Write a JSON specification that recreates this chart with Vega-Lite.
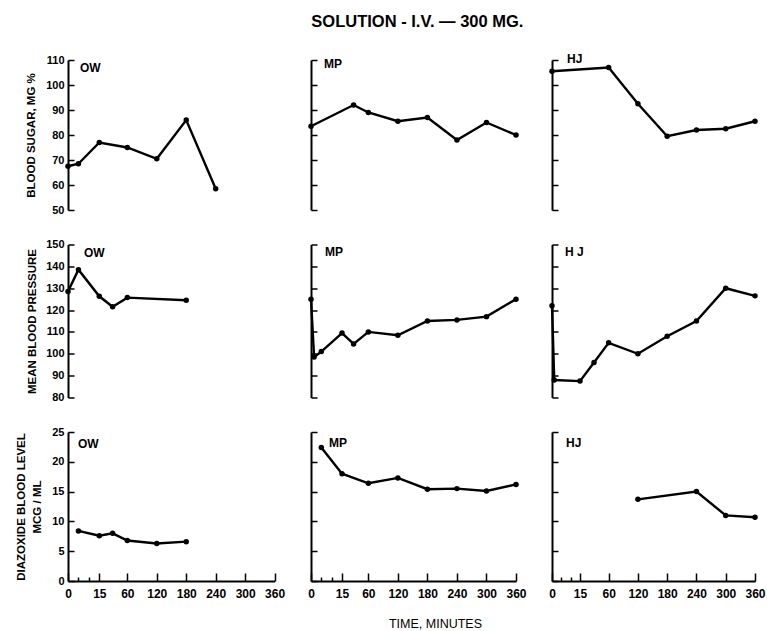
{
  "$schema": "https://vega.github.io/schema/vega-lite/v6.json",
  "background": "white",
  "padding": {"left": 15, "top": 13, "right": 5, "bottom": 5},
  "bounds": "flush",
  "title": {"text": "SOLUTION - I.V. — 300 MG.", "font": "Liberation Sans", "fontSize": 16.5, "fontWeight": "bold", "color": "black", "anchor": "middle", "offset": 23, "dx": 27},
  "datasets": {
    "obs": [
      {"s": "OW", "m": "sugar", "t": 0, "v": 67.5},
      {"s": "OW", "m": "sugar", "t": 5, "v": 68.5},
      {"s": "OW", "m": "sugar", "t": 15, "v": 77},
      {"s": "OW", "m": "sugar", "t": 60, "v": 75},
      {"s": "OW", "m": "sugar", "t": 120, "v": 70.5},
      {"s": "OW", "m": "sugar", "t": 180, "v": 86},
      {"s": "OW", "m": "sugar", "t": 240, "v": 58.5},
      {"s": "MP", "m": "sugar", "t": 0, "v": 83.5},
      {"s": "MP", "m": "sugar", "t": 30, "v": 92},
      {"s": "MP", "m": "sugar", "t": 60, "v": 89},
      {"s": "MP", "m": "sugar", "t": 120, "v": 85.5},
      {"s": "MP", "m": "sugar", "t": 180, "v": 87},
      {"s": "MP", "m": "sugar", "t": 240, "v": 78},
      {"s": "MP", "m": "sugar", "t": 300, "v": 85},
      {"s": "MP", "m": "sugar", "t": 360, "v": 80},
      {"s": "HJ", "m": "sugar", "t": 0, "v": 105.5},
      {"s": "HJ", "m": "sugar", "t": 60, "v": 107},
      {"s": "HJ", "m": "sugar", "t": 120, "v": 92.5},
      {"s": "HJ", "m": "sugar", "t": 180, "v": 79.5},
      {"s": "HJ", "m": "sugar", "t": 240, "v": 82},
      {"s": "HJ", "m": "sugar", "t": 300, "v": 82.5},
      {"s": "HJ", "m": "sugar", "t": 360, "v": 85.5},
      {"s": "OW", "m": "bp", "t": 0, "v": 128.5},
      {"s": "OW", "m": "bp", "t": 5, "v": 138.5},
      {"s": "OW", "m": "bp", "t": 15, "v": 126.3},
      {"s": "OW", "m": "bp", "t": 30, "v": 121.5},
      {"s": "OW", "m": "bp", "t": 60, "v": 125.7},
      {"s": "OW", "m": "bp", "t": 180, "v": 124.5},
      {"s": "MP", "m": "bp", "t": 0, "v": 125},
      {"s": "MP", "m": "bp", "t": 1.5, "v": 98.5},
      {"s": "MP", "m": "bp", "t": 5, "v": 101},
      {"s": "MP", "m": "bp", "t": 15, "v": 109.5},
      {"s": "MP", "m": "bp", "t": 30, "v": 104.5},
      {"s": "MP", "m": "bp", "t": 60, "v": 110},
      {"s": "MP", "m": "bp", "t": 120, "v": 108.5},
      {"s": "MP", "m": "bp", "t": 180, "v": 115},
      {"s": "MP", "m": "bp", "t": 240, "v": 115.5},
      {"s": "MP", "m": "bp", "t": 300, "v": 117},
      {"s": "MP", "m": "bp", "t": 360, "v": 125},
      {"s": "HJ", "m": "bp", "t": 0, "v": 122},
      {"s": "HJ", "m": "bp", "t": 1.2, "v": 88},
      {"s": "HJ", "m": "bp", "t": 15, "v": 87.5},
      {"s": "HJ", "m": "bp", "t": 30, "v": 96},
      {"s": "HJ", "m": "bp", "t": 60, "v": 105},
      {"s": "HJ", "m": "bp", "t": 120, "v": 100},
      {"s": "HJ", "m": "bp", "t": 180, "v": 108},
      {"s": "HJ", "m": "bp", "t": 240, "v": 115},
      {"s": "HJ", "m": "bp", "t": 300, "v": 130},
      {"s": "HJ", "m": "bp", "t": 360, "v": 126.5},
      {"s": "OW", "m": "dz", "t": 5, "v": 8.4},
      {"s": "OW", "m": "dz", "t": 15, "v": 7.6},
      {"s": "OW", "m": "dz", "t": 30, "v": 8},
      {"s": "OW", "m": "dz", "t": 60, "v": 6.8},
      {"s": "OW", "m": "dz", "t": 120, "v": 6.3},
      {"s": "OW", "m": "dz", "t": 180, "v": 6.6},
      {"s": "MP", "m": "dz", "t": 5, "v": 22.4},
      {"s": "MP", "m": "dz", "t": 15, "v": 18},
      {"s": "MP", "m": "dz", "t": 60, "v": 16.4},
      {"s": "MP", "m": "dz", "t": 120, "v": 17.3},
      {"s": "MP", "m": "dz", "t": 180, "v": 15.4},
      {"s": "MP", "m": "dz", "t": 240, "v": 15.5},
      {"s": "MP", "m": "dz", "t": 300, "v": 15.1},
      {"s": "MP", "m": "dz", "t": 360, "v": 16.2},
      {"s": "HJ", "m": "dz", "t": 120, "v": 13.7},
      {"s": "HJ", "m": "dz", "t": 240, "v": 15},
      {"s": "HJ", "m": "dz", "t": 300, "v": 11},
      {"s": "HJ", "m": "dz", "t": 360, "v": 10.7}
    ]
  },
  "columns": 3,
  "spacing": {"row": 34.5, "column": 36},
  "concat": [
    {
      "width": 207, "height": 150,
      "title": {"text": "OW", "frame": "group", "anchor": "start", "offset": -21, "dx": 12},
      "data": {"name": "obs"},
      "transform": [{"filter": "datum.s === 'OW' && datum.m === 'sugar'"}],
      "encoding": {
        "x": {"field": "t", "type": "quantitative", "scale": {"domain": [0, 15, 30, 360], "range": [0, 31.3, 44.6, 206.6], "nice": false}, "axis": null},
        "y": {"field": "v", "type": "quantitative", "scale": {"domain": [50, 110], "nice": false, "zero": false}, "axis": {"values": [50, 60, 70, 80, 90, 100, 110], "tickSize": -6, "labelPadding": 10, "title": "BLOOD SUGAR, MG %", "titlePadding": 9}}
      },
      "layer": [
        {"mark": {"type": "line", "color": "black", "strokeWidth": 2.4}},
        {"mark": {"type": "circle", "color": "black", "size": 30, "opacity": 1}}
      ]
    },
    {
      "width": 205, "height": 150,
      "title": {"text": "MP", "frame": "group", "anchor": "start", "offset": -12, "dx": 13},
      "data": {"name": "obs"},
      "transform": [{"filter": "datum.s === 'MP' && datum.m === 'sugar'"}],
      "encoding": {
        "x": {"field": "t", "type": "quantitative", "scale": {"domain": [0, 15, 30, 360], "range": [0, 31, 42.6, 205], "nice": false}, "axis": null},
        "y": {"field": "v", "type": "quantitative", "scale": {"domain": [50, 110], "nice": false, "zero": false}, "axis": {"values": [50, 60, 70, 80, 90, 100, 110], "tickSize": -6, "labels": false, "title": null}}
      },
      "layer": [
        {"mark": {"type": "line", "color": "black", "strokeWidth": 2.4}},
        {"mark": {"type": "circle", "color": "black", "size": 30, "opacity": 1}}
      ]
    },
    {
      "width": 203, "height": 150,
      "title": {"text": "HJ", "frame": "group", "anchor": "start", "offset": -7, "dx": 15},
      "data": {"name": "obs"},
      "transform": [{"filter": "datum.s === 'HJ' && datum.m === 'sugar'"}],
      "encoding": {
        "x": {"field": "t", "type": "quantitative", "scale": {"domain": [0, 15, 30, 360], "range": [0, 28, 42, 203], "nice": false}, "axis": null},
        "y": {"field": "v", "type": "quantitative", "scale": {"domain": [50, 110], "nice": false, "zero": false}, "axis": {"values": [50, 60, 70, 80, 90, 100, 110], "tickSize": -6, "labels": false, "title": null}}
      },
      "layer": [
        {"mark": {"type": "line", "color": "black", "strokeWidth": 2.4}},
        {"mark": {"type": "circle", "color": "black", "size": 30, "opacity": 1}}
      ]
    },
    {
      "width": 207, "height": 153,
      "title": {"text": "OW", "frame": "group", "anchor": "start", "offset": -21, "dx": 16},
      "data": {"name": "obs"},
      "transform": [{"filter": "datum.s === 'OW' && datum.m === 'bp'"}],
      "encoding": {
        "x": {"field": "t", "type": "quantitative", "scale": {"domain": [0, 15, 30, 360], "range": [0, 31.3, 44.6, 206.6], "nice": false}, "axis": null},
        "y": {"field": "v", "type": "quantitative", "scale": {"domain": [80, 150], "nice": false, "zero": false}, "axis": {"values": [80, 90, 100, 110, 120, 130, 140, 150], "tickSize": -6, "labelPadding": 10, "title": "MEAN BLOOD PRESSURE", "titlePadding": 8}}
      },
      "layer": [
        {"mark": {"type": "line", "color": "black", "strokeWidth": 2.4}},
        {"mark": {"type": "circle", "color": "black", "size": 30, "opacity": 1}}
      ]
    },
    {
      "width": 205, "height": 153,
      "title": {"text": "MP", "frame": "group", "anchor": "start", "offset": -15.5, "dx": 14},
      "data": {"name": "obs"},
      "transform": [{"filter": "datum.s === 'MP' && datum.m === 'bp'"}],
      "encoding": {
        "x": {"field": "t", "type": "quantitative", "scale": {"domain": [0, 15, 30, 360], "range": [0, 31, 42.6, 205], "nice": false}, "axis": null},
        "y": {"field": "v", "type": "quantitative", "scale": {"domain": [80, 150], "nice": false, "zero": false}, "axis": {"values": [80, 90, 100, 110, 120, 130, 140, 150], "tickSize": -6, "labels": false, "title": null}}
      },
      "layer": [
        {"mark": {"type": "line", "color": "black", "strokeWidth": 2.4}},
        {"mark": {"type": "circle", "color": "black", "size": 30, "opacity": 1}}
      ]
    },
    {
      "width": 203, "height": 153,
      "title": {"text": "H J", "frame": "group", "anchor": "start", "offset": -15.5, "dx": 13},
      "data": {"name": "obs"},
      "transform": [{"filter": "datum.s === 'HJ' && datum.m === 'bp'"}],
      "encoding": {
        "x": {"field": "t", "type": "quantitative", "scale": {"domain": [0, 15, 30, 360], "range": [0, 28, 42, 203], "nice": false}, "axis": null},
        "y": {"field": "v", "type": "quantitative", "scale": {"domain": [80, 150], "nice": false, "zero": false}, "axis": {"values": [80, 90, 100, 110, 120, 130, 140, 150], "tickSize": -6, "labels": false, "title": null}}
      },
      "layer": [
        {"mark": {"type": "line", "color": "black", "strokeWidth": 2.4}},
        {"mark": {"type": "circle", "color": "black", "size": 30, "opacity": 1}}
      ]
    },
    {
      "width": 207, "height": 149,
      "title": {"text": "OW", "frame": "group", "anchor": "start", "offset": -25, "dx": 10},
      "data": {"name": "obs"},
      "transform": [{"filter": "datum.s === 'OW' && datum.m === 'dz'"}],
      "encoding": {
        "x": {"field": "t", "type": "quantitative", "scale": {"domain": [0, 15, 30, 360], "range": [0, 31.3, 44.6, 206.6], "nice": false}, "axis": {"values": [0, 5, 10, 15, 60, 120, 180, 240, 300, 360], "labelExpr": "datum.value == 5 || datum.value == 10 ? '' : datum.label", "tickSize": {"condition": {"test": "datum.value == 5 || datum.value == 10", "value": -4}, "value": -8}, "labelPadding": 15, "labelFontSize": 12, "labelOverlap": false, "labelFlush": false, "title": null}},
        "y": {"field": "v", "type": "quantitative", "scale": {"domain": [0, 25], "nice": false, "zero": false}, "axis": {"values": [0, 5, 10, 15, 20, 25], "tickSize": -6, "labelPadding": 10, "title": ["DIAZOXIDE BLOOD LEVEL", "MCG / ML"], "titlePadding": 9, "titleLineHeight": 16}}
      },
      "layer": [
        {"mark": {"type": "line", "color": "black", "strokeWidth": 2.4}},
        {"mark": {"type": "circle", "color": "black", "size": 30, "opacity": 1}}
      ]
    },
    {
      "width": 205, "height": 149,
      "title": {"text": "MP", "frame": "group", "anchor": "start", "offset": -18.5, "dx": 18},
      "data": {"name": "obs"},
      "transform": [{"filter": "datum.s === 'MP' && datum.m === 'dz'"}],
      "encoding": {
        "x": {"field": "t", "type": "quantitative", "scale": {"domain": [0, 15, 30, 360], "range": [0, 31, 42.6, 205], "nice": false}, "axis": {"values": [0, 5, 10, 15, 60, 120, 180, 240, 300, 360], "labelExpr": "datum.value == 5 || datum.value == 10 ? '' : datum.label", "tickSize": {"condition": {"test": "datum.value == 5 || datum.value == 10", "value": -4}, "value": -8}, "labelPadding": 15, "labelFontSize": 12, "labelOverlap": false, "labelFlush": false, "title": "TIME, MINUTES", "titlePadding": 14, "titleFontWeight": "normal", "titleFontSize": 12.5, "titleX": 124}},
        "y": {"field": "v", "type": "quantitative", "scale": {"domain": [0, 25], "nice": false, "zero": false}, "axis": {"values": [0, 5, 10, 15, 20, 25], "tickSize": -6, "labels": false, "title": null}}
      },
      "layer": [
        {"mark": {"type": "line", "color": "black", "strokeWidth": 2.4}},
        {"mark": {"type": "circle", "color": "black", "size": 30, "opacity": 1}}
      ]
    },
    {
      "width": 203, "height": 149,
      "title": {"text": "HJ", "frame": "group", "anchor": "start", "offset": -18.5, "dx": 14},
      "data": {"name": "obs"},
      "transform": [{"filter": "datum.s === 'HJ' && datum.m === 'dz'"}],
      "encoding": {
        "x": {"field": "t", "type": "quantitative", "scale": {"domain": [0, 15, 30, 360], "range": [0, 28, 42, 203], "nice": false}, "axis": {"values": [0, 5, 10, 15, 60, 120, 180, 240, 300, 360], "labelExpr": "datum.value == 5 || datum.value == 10 ? '' : datum.label", "tickSize": {"condition": {"test": "datum.value == 5 || datum.value == 10", "value": -4}, "value": -8}, "labelPadding": 15, "labelFontSize": 12, "labelOverlap": false, "labelFlush": false, "title": null}},
        "y": {"field": "v", "type": "quantitative", "scale": {"domain": [0, 25], "nice": false, "zero": false}, "axis": {"values": [0, 5, 10, 15, 20, 25], "tickSize": -6, "labels": false, "title": null}}
      },
      "layer": [
        {"mark": {"type": "line", "color": "black", "strokeWidth": 2.4}},
        {"mark": {"type": "circle", "color": "black", "size": 30, "opacity": 1}}
      ]
    }
  ],
  "config": {
    "view": {"stroke": null},
    "title": {"font": "Liberation Sans", "fontSize": 12, "fontWeight": "bold", "color": "black"},
    "axis": {
      "grid": false,
      "domainColor": "black",
      "domainWidth": 2,
      "tickColor": "black",
      "tickWidth": 1.5,
      "labelColor": "black",
      "titleColor": "black",
      "labelFont": "Liberation Sans",
      "titleFont": "Liberation Sans",
      "labelFontWeight": "bold",
      "titleFontWeight": "bold",
      "labelFontSize": 11,
      "titleFontSize": 11.5
    }
  }
}
